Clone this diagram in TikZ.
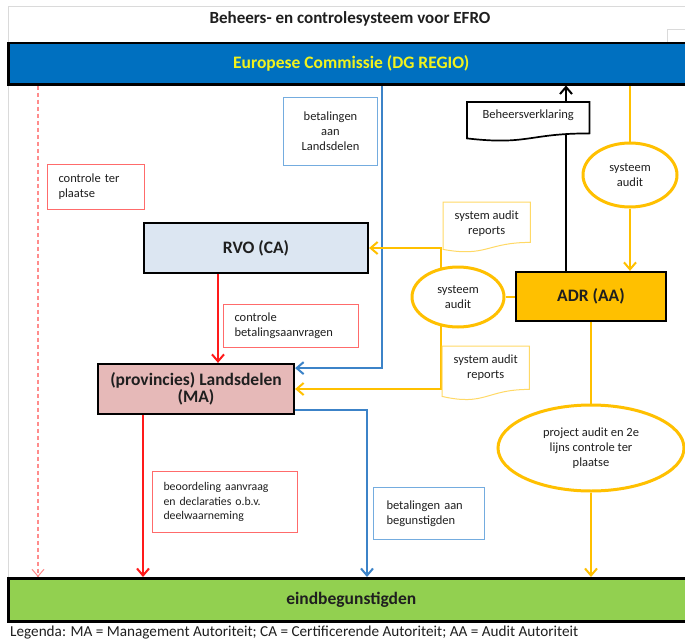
\documentclass[tikz,border=0pt]{standalone}
\usepackage{fontspec}
\setmainfont{Carlito}
\usetikzlibrary{arrows.meta,calc,shapes.geometric}
\pgfdeclarelayer{back}
\pgfdeclarelayer{bg}
\pgfdeclarelayer{mid}
\pgfsetlayers{back,bg,mid,main}
\definecolor{ecblue}{HTML}{0070C0}
\definecolor{ectext}{HTML}{F2F21C}
\definecolor{rvofill}{HTML}{DCE6F2}
\definecolor{mafill}{HTML}{E6B9B8}
\definecolor{adrfill}{HTML}{FFC000}
\definecolor{ebgreen}{HTML}{92D050}
\definecolor{lineyellow}{HTML}{FFC000}
\definecolor{lineblue}{HTML}{3C83C8}
\definecolor{boxblue}{HTML}{74ACDF}
\definecolor{boxred}{HTML}{FF6B6B}
\definecolor{linered}{HTML}{FF1A1A}
\definecolor{dashred}{HTML}{FF8C8C}
\definecolor{docyellow}{HTML}{FFD966}
\definecolor{framegray}{HTML}{DADADA}
\definecolor{txt}{HTML}{1F1F1F}
\tikzset{
  bigbar/.style={draw=black, line width=2.5pt, minimum width=686, minimum height=41, inner sep=0, font=\fontsize{17.5}{19}\selectfont\bfseries},
  orgbox/.style={draw=black, line width=2.2pt, inner sep=0, align=center, font=\fontsize{17.5}{19}\selectfont\bfseries},
  lblred/.style={draw=boxred, line width=1pt, fill=white, align=left, inner xsep=11pt, inner ysep=0pt, anchor=north west},
  lblblue/.style={draw=boxblue, line width=1pt, fill=white, inner ysep=0pt, anchor=north west},
  aud/.style={ellipse, draw=lineyellow, line width=3pt, fill=white, align=center, inner sep=0pt},
  docnode/.style={align=center, inner sep=0pt, anchor=north west},
  docy/.style={draw=docyellow, line width=1pt, fill=white},
  docb/.style={draw=black, line width=1.7pt, fill=white},
  tipv/.style={-{Straight Barb[length=7pt,width=12pt]}},
  yline/.style={draw=lineyellow, line width=2pt},
  bline/.style={draw=lineblue, line width=2pt},
  rline/.style={draw=linered, line width=2pt},
}
\begin{document}
\begin{tikzpicture}[x=1pt, y=-1pt, font=\fontsize{12.5}{15}\selectfont, text=txt]
\useasboundingbox (0,0) rectangle (685,642);
\begin{pgfonlayer}{back}
\fill[white] (0,0) rectangle (685,642);
\end{pgfonlayer}
% frame
\draw[framegray, line width=1pt] (8,620) -- (8,7) -- (685,7);
\draw[framegray, line width=1pt] (667,42) -- (667,30) -- (685,30);

% title
\node[font=\fontsize{17}{19}\selectfont\bfseries] (title) at (350,19) {Beheers- en controlesysteem voor EFRO};

% bars
\node[bigbar, fill=ecblue, text=ectext, anchor=north west] (ec) at (7,42) {Europese Commissie (DG REGIO)};
\node[bigbar, fill=ebgreen, text=txt, anchor=north west, minimum height=43] (eb) at (7,577) {eindbegunstigden};

% organisations
\node[orgbox, fill=rvofill, minimum width=224, minimum height=50] (rvo) at (256,248) {RVO (CA)};
\node[orgbox, fill=mafill, minimum width=196, minimum height=50] (lm) at (196,389) {(provincies) Landsdelen\\[-2pt](MA)};
\node[orgbox, fill=adrfill, minimum width=150, minimum height=49] (adr) at (591,296.5) {ADR (AA)};

% audit ellipses
\node[aud, minimum width=94, minimum height=64] (e1) at (630,175) {systeem\\audit};
\node[aud, minimum width=92, minimum height=60] (e2) at (458,297) {systeem\\audit};
\node[aud, minimum width=186, minimum height=86] (e3) at (591,448) {project audit en 2e\\lijns controle ter\\plaatse};

% label boxes
\node[lblred, minimum width=97, minimum height=45, text width=75] (ctp) at (47,164) {controle ter\\plaatse};
\node[lblred, minimum width=135, minimum height=43, text width=113] (cba) at (223,304) {controle\\betalingsaanvragen};
\node[lblred, minimum width=145, minimum height=61, text width=123, font=\fontsize{11.8}{14.5}\selectfont] (bad) at (152,471) {beoordeling aanvraag\\en declaraties o.b.v.\\deelwaarneming};
\node[lblblue, minimum width=94, minimum height=68, align=center, inner xsep=2pt] (bal) at (283,97) {betalingen\\aan\\Landsdelen};
\node[lblblue, minimum width=111, minimum height=52, align=left, inner xsep=13pt, text width=85] (bab) at (373,487) {betalingen aan\\begunstigden};

% document shapes
\node[docnode, minimum width=122, minimum height=27] (bv) at (467,102) {Beheersverklaring};
\node[docnode, minimum width=87, minimum height=43] (r1) at (443,202) {system audit\\reports};
\node[docnode, minimum width=87, minimum height=42] (r2) at (442,346) {system audit\\reports};
\begin{pgfonlayer}{mid}
\draw[docb] (bv.north west) -- (bv.north east) -- ($(bv.south east)+(0,4)$) .. controls ($(bv.south)+(0,4)$) and ($(bv.south)+(0,16)$) .. ($(bv.south west)+(0,9)$) -- cycle;
\draw[docy] (r1.north west) -- (r1.north east) -- ($(r1.south east)+(0,-3)$) .. controls ($(r1.south)+(0,-3)$) and ($(r1.south)+(0,12)$) .. ($(r1.south west)+(0,4)$) -- cycle;
\draw[docy] (r2.north west) -- (r2.north east) -- ($(r2.south east)+(0,1)$) .. controls ($(r2.south)+(0,1)$) and ($(r2.south)+(0,18)$) .. ($(r2.south west)+(0,8)$) -- cycle;
\end{pgfonlayer}

% legend
\node[anchor=west, font=\fontsize{15.2}{17}\selectfont, inner sep=0pt] (leg) at (10,633) {Legenda: MA = Management Autoriteit; CA = Certificerende Autoriteit; AA = Audit Autoriteit};

% helper x positions
\coordinate (dx) at (38,0);
\coordinate (rx) at (218,0);
\coordinate (rx2) at (143,0);
\coordinate (bx) at (382,0);
\coordinate (bx2) at (367,0);
\coordinate (kx) at (566,0);

\begin{pgfonlayer}{bg}
% dashed red
\draw[draw=dashred, line width=1.3pt, dash pattern=on 4pt off 3pt, -{Straight Barb[length=7pt,width=12pt,line width=1pt]}] (ec.south -| dx) -- (eb.north -| dx);
% red
\draw[rline, tipv] (rvo.south -| rx) -- (lm.north -| rx);
\draw[rline, tipv] (lm.south -| rx2) -- (eb.north -| rx2);
% blue
\draw[bline, tipv] (ec.south -| bx) |- ($(lm.north east)!0.1!(lm.south east)$);
\draw[bline, tipv] ($(lm.north east)!0.9!(lm.south east)$) -| (eb.north -| bx2);
% black
\draw[draw=black, line width=2pt, tipv] (adr.north -| kx) -- (ec.south -| kx);
% yellow
\draw[yline] (ec.south -| e1) -- (e1.north);
\draw[yline, tipv] (e1.south) -- (adr.north -| e1);
\draw[yline] (e2.east) -- (adr.west |- e2.east);
\draw[yline, tipv] (e2.120) |- (rvo.east);
\draw[yline, tipv] (e2.240) |- (lm.east);
\draw[yline] (adr.south) -- (e3.north);
\draw[yline, tipv] (e3.south) -- (eb.north -| e3);
\end{pgfonlayer}
\end{tikzpicture}
\end{document}
